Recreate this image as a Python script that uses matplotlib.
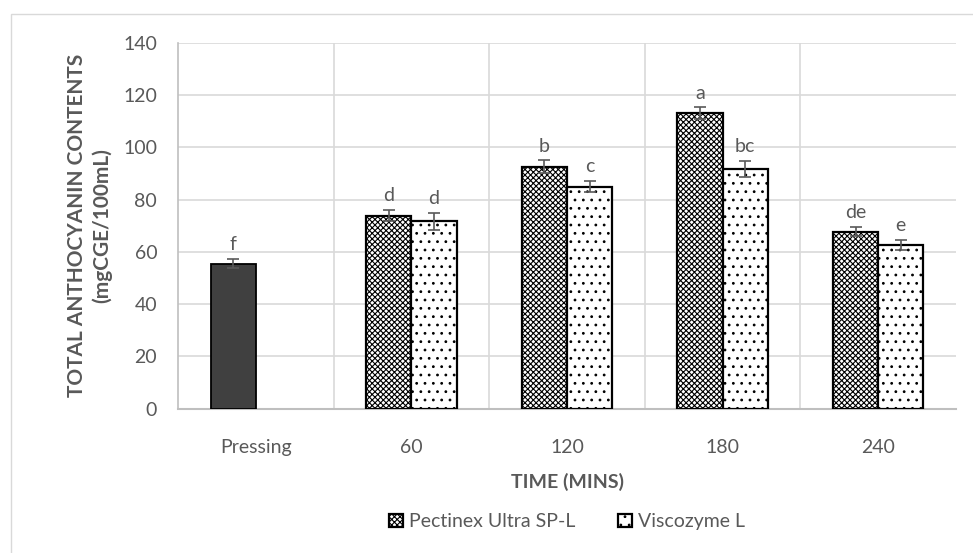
import matplotlib.pyplot as plt
import matplotlib.patches as mpatches
import numpy as np

plt.rcParams['font.family'] = ['Lato', 'DejaVu Sans']
plt.rcParams['hatch.linewidth'] = 0.8

categories = ["Pressing", "60", "120", "180", "240"]

pressing_value = 55.5
pressing_err = 1.8
pressing_letter = "f"

pectinex = [73.9, 92.7, 113.1, 67.8]
pectinex_err = [2.2, 2.3, 2.3, 1.9]
pectinex_letters = ["d", "b", "a", "de"]

viscozyme = [71.7, 85.0, 91.7, 62.7]
viscozyme_err = [3.2, 2.2, 3.2, 2.0]
viscozyme_letters = ["d", "c", "bc", "e"]

grey = "#595959"
width = 0.29


def main():
    fig = plt.figure(figsize=(9.73, 5.53), dpi=100)
    ax = fig.add_axes([0.183, 0.2613, 0.7995, 0.6609])

    # outer chart border (light grey, cut off on right/bottom)
    fig.patches.append(mpatches.Rectangle((11 / 973, -0.1), 1.2, (553 - 14) / 553 + 0.1,
                                          transform=fig.transFigure, fill=False,
                                          edgecolor="#d9d9d9", linewidth=1.0))

    err_kw = dict(ecolor=grey, capsize=4, elinewidth=1.2, capthick=1.2)

    ax.bar(0 - width / 2, pressing_value, width, color="#404040", edgecolor="black",
           linewidth=1.3, yerr=pressing_err, error_kw=err_kw, zorder=3)

    x = np.arange(1, len(categories))
    ax.bar(x - width / 2, pectinex, width, color="white", edgecolor="black",
           hatch="xxxxxx", linewidth=1.6, yerr=pectinex_err, error_kw=err_kw,
           zorder=3, label="Pectinex Ultra SP-L")
    ax.bar(x + width / 2, viscozyme, width, color="white", edgecolor="black",
           hatch="..", linewidth=1.6, yerr=viscozyme_err, error_kw=err_kw,
           zorder=3, label="Viscozyme L")

    # significance letters
    ax.annotate(pressing_letter, (0 - width / 2, pressing_value + pressing_err),
                xytext=(0, 4), textcoords="offset points", ha="center", va="bottom",
                fontsize=14, color=grey)
    for i in range(len(x)):
        ax.annotate(pectinex_letters[i], (x[i] - width / 2, pectinex[i] + pectinex_err[i]),
                    xytext=(0, 4), textcoords="offset points", ha="center", va="bottom",
                    fontsize=14, color=grey)
        ax.annotate(viscozyme_letters[i], (x[i] + width / 2, viscozyme[i] + viscozyme_err[i]),
                    xytext=(0, 4), textcoords="offset points", ha="center", va="bottom",
                    fontsize=14, color=grey)

    ax.set_xlim(-0.5, len(categories) - 0.5)
    ax.set_ylim(0, 140)
    ax.set_yticks(np.arange(0, 141, 20))
    ax.set_xticks(np.arange(len(categories)))
    ax.set_xticklabels(categories)

    # gridlines: horizontal at ticks, vertical at category borders
    for yv in np.arange(20, 141, 20):
        ax.axhline(yv, color="#d9d9d9", linewidth=1.2, zorder=0)
    for xv in np.arange(0.5, len(categories) - 0.5, 1):
        ax.axvline(xv, color="#d9d9d9", linewidth=1.2, zorder=0)

    for side in ["top", "right"]:
        ax.spines[side].set_visible(False)
    ax.spines["left"].set_color("#bfbfbf")
    ax.spines["bottom"].set_color("#bfbfbf")
    ax.spines["left"].set_linewidth(1.2)
    ax.spines["bottom"].set_linewidth(1.5)

    ax.tick_params(axis="both", length=0, labelsize=14, colors=grey)
    ax.tick_params(axis="x", pad=22)
    ax.tick_params(axis="y", pad=15)

    ax.set_xlabel("TIME (MINS)", fontsize=14, fontweight="bold", color=grey, labelpad=12)
    ax.set_ylabel("TOTAL ANTHOCYANIN CONTENTS\n(mgCGE/100mL)", fontsize=15,
                  fontweight="bold", color=grey, labelpad=8, linespacing=1.3)

    leg = ax.legend(loc="center", bbox_to_anchor=(0.5, -0.31), ncol=2, frameon=False,
                    fontsize=14, handlelength=0.7, handleheight=0.7, handletextpad=0.3,
                    columnspacing=2.2)
    for t in leg.get_texts():
        t.set_color(grey)

    fig.savefig("out.png", dpi=100)


if __name__ == "__main__":
    main()
